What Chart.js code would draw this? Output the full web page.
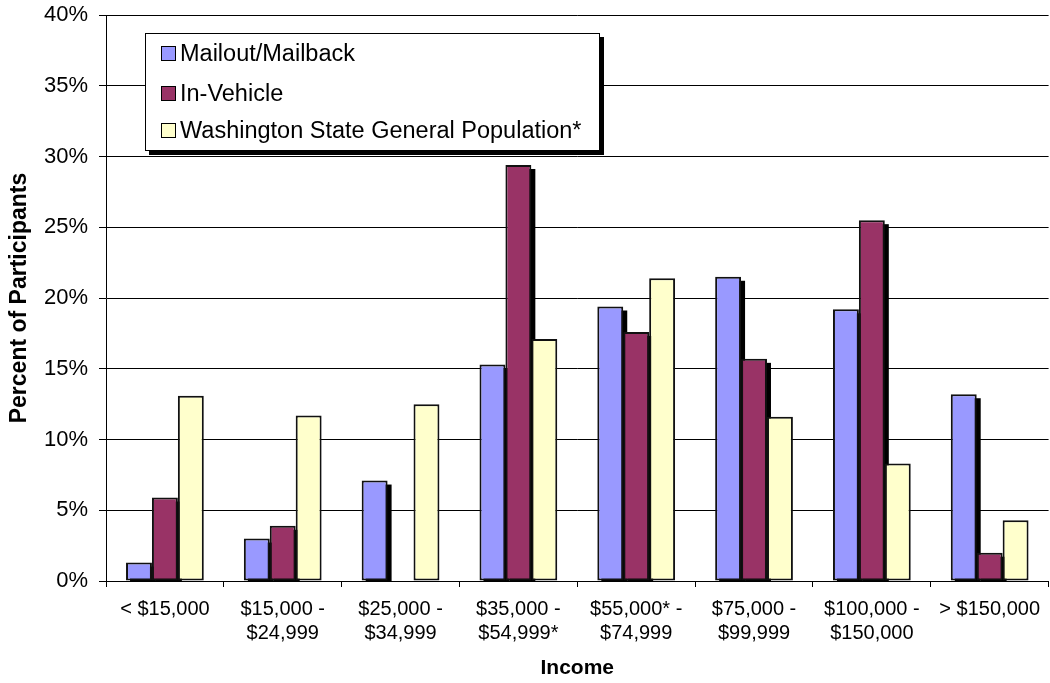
<!DOCTYPE html>
<html>
<head>
<meta charset="utf-8">
<script src="https://cdn.jsdelivr.net/npm/chart.js@4"></script>
<style>
    html, body { margin: 0; padding: 0; background: #fff; }
    #wrap { position: relative; width: 1050px; height: 683px; }
    #legend {
        position: absolute; left: 145px; top: 33px; width: 453px; height: 116px;
        background: #fff; border: 1px solid #000; box-shadow: 4px 4px 0 #000;
        font-family: "Liberation Sans", Arial, sans-serif; font-size: 23.5px; color: #000;
    }
    .legend-item { position: absolute; left: 15px; height: 26px; line-height: 26px; white-space: nowrap; }
    .swatch { display: inline-block; width: 13px; height: 13px; border: 1px solid #000; margin-right: 4px; vertical-align: 0px; }
</style>
</head>
<body>
<div id="wrap">
    <canvas id="chart" width="1050" height="683"></canvas>
    <div id="legend"></div>
</div>
<script>
// =============================================================================
// 데이터
// =============================================================================
const categories = [
    ["< $15,000"],
    ["$15,000 -", "$24,999"],
    ["$25,000 -", "$34,999"],
    ["$35,000 -", "$54,999*"],
    ["$55,000* -", "$74,999"],
    ["$75,000 -", "$99,999"],
    ["$100,000 -", "$150,000"],
    ["> $150,000"],
];
const seriesNames = ["Mailout/Mailback", "In-Vehicle", "Washington State General Population*"];
const mailout = [1.3, 3.0, 7.1, 15.3, 19.4, 21.5, 19.2, 13.2];
const inVehicle = [5.9, 3.9, 0, 29.4, 17.6, 15.7, 25.5, 2.0];
const waPopulation = [13.1, 11.7, 12.5, 17.1, 21.4, 11.6, 8.3, 4.3];
const yTicks = [0, 5, 10, 15, 20, 25, 30, 35, 40];

const colors = ["#9999FF", "#993366", "#FFFFCC"];
const shadowSeries = [0, 1];   // WA 막대는 그림자 없음
const FONT = "'Liberation Sans', Arial, sans-serif";


// =============================================================================
// 막대 그림자 (검정, 오른쪽 아래로 4px)
// =============================================================================
const barShadow = {
    id: "barShadow",
    beforeDatasetsDraw(chart) {
        const ctx = chart.ctx;
        const area = chart.chartArea;
        ctx.save();
        ctx.beginPath();
        ctx.rect(area.left, area.top, area.right - area.left, area.bottom - area.top);
        ctx.clip();
        ctx.fillStyle = "#000";
        shadowSeries.forEach((i) => {
            chart.getDatasetMeta(i).data.forEach((bar) => {
                const p = bar.getProps(["x", "y", "base", "width"], true);
                if (p.base - p.y < 1) return;
                ctx.fillRect(p.x - p.width / 2 + 4, p.y + 4, p.width, p.base - p.y);
            });
        });
        ctx.restore();
    },
};


// =============================================================================
// 차트
// =============================================================================
function makeDataset(i, values) {
    return {
        label: seriesNames[i],
        data: values,
        backgroundColor: colors[i],
        borderColor: "#111",
        borderWidth: 2,
        borderSkipped: false,
        categoryPercentage: 0.66,
        barPercentage: 1.0,
    };
}

new Chart(document.getElementById("chart"), {
    type: "bar",
    data: {
        labels: categories,
        datasets: [
            makeDataset(0, mailout),
            makeDataset(1, inVehicle),
            makeDataset(2, waPopulation),
        ],
    },
    options: {
        responsive: false,
        animation: false,
        layout: { padding: { top: 15, right: 0, left: 0, bottom: 0 } },
        plugins: {
            legend: { display: false },
            tooltip: { enabled: false },
        },
        scales: {
            x: {
                grid: { display: true, drawOnChartArea: false, color: "#000", tickLength: 6 },
                border: { color: "#000", width: 1 },
                ticks: {
                    color: "#000", maxRotation: 0, autoSkip: false, padding: 10,
                    font: { family: FONT, size: 20, lineHeight: 1.2 },
                },
                title: {
                    display: true, text: "Income", color: "#000", padding: { top: 8, bottom: 2 },
                    font: { family: FONT, size: 21, weight: "bold" },
                },
                afterFit(scale) { scale.height = 102; },
            },
            y: {
                min: 0,
                max: 40,
                afterBuildTicks(scale) { scale.ticks = yTicks.map((v) => ({ value: v })); },
                grid: { color: "#000", lineWidth: 1, tickLength: 7 },
                border: { color: "#000", width: 1 },
                ticks: {
                    color: "#000", padding: 11,
                    font: { family: FONT, size: 22 },
                    callback: (v) => v + "%",
                },
                title: {
                    display: true, text: "Percent of Participants", color: "#000", padding: { top: 6, bottom: 4 },
                    font: { family: FONT, size: 23, weight: "bold" },
                },
                afterFit(scale) {
                    scale.width = 106;
                    scale.paddingTop = 0;
                    scale.paddingBottom = 0;
                },
            },
        },
    },
    plugins: [barShadow],
});


// =============================================================================
// 범례 (그림자 있는 박스)
// =============================================================================
function renderLegend() {
    const legend = document.getElementById("legend");
    const tops = [6, 46, 83];
    seriesNames.forEach((name, i) => {
        const item = document.createElement("div");
        item.className = "legend-item";
        item.style.top = tops[i] + "px";
        item.innerHTML = `<span class="swatch" style="background:${colors[i]}"></span>${name}`;
        legend.appendChild(item);
    });
}

renderLegend();
</script>
</body>
</html>
